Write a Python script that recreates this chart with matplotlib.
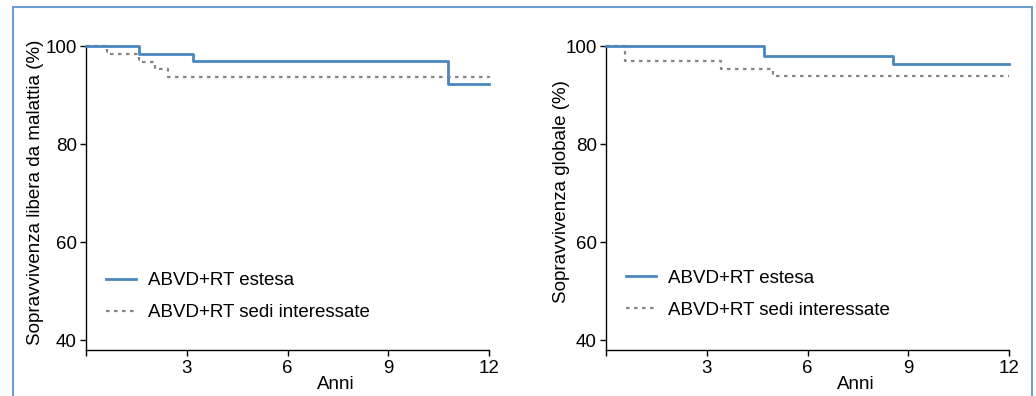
import matplotlib
matplotlib.use('Agg')
import matplotlib.pyplot as plt
from matplotlib.patches import Rectangle

plt.rcParams['font.family'] = ['Liberation Sans', 'DejaVu Sans']

labels = ["ABVD+RT estesa", "ABVD+RT sedi interessate"]
xticks = [0, 3, 6, 9, 12]
xticklabels = ["", "3", "6", "9", "12"]
yticks = [40, 60, 80, 100]

# sopravvivenza libera da malattia
dfs_t_estesa = [0, 1.59, 3.19, 10.79, 12]
dfs_v_estesa = [100, 98.4, 96.9, 92.3, 92.3]
dfs_t_sedi = [0, 0.62, 1.57, 2.05, 2.45, 12]
dfs_v_sedi = [100, 98.3, 96.7, 95.4, 93.7, 93.8]

# sopravvivenza globale
os_t_estesa = [0, 4.69, 8.54, 12]
os_v_estesa = [100, 97.9, 96.4, 96.4]
os_t_sedi = [0, 0.57, 3.42, 4.96, 12]
os_v_sedi = [100, 96.9, 95.4, 93.8, 93.8]

blue = '#4a86c0'
grey = '#858585'

fig = plt.figure(figsize=(10.36, 3.96), dpi=100)
ax1 = fig.add_axes([86/1036, 1-350/396, 403/1036, 304/396])
ax2 = fig.add_axes([606/1036, 1-350/396, 403/1036, 304/396])

panels = [
    (ax1, dfs_t_estesa, dfs_v_estesa, dfs_t_sedi, dfs_v_sedi,
     "Sopravvivenza libera da malattia (%)", -0.104, 0.175),
    (ax2, os_t_estesa, os_v_estesa, os_t_sedi, os_v_sedi,
     "Sopravvivenza globale (%)", -0.089, 0.183),
]

for ax, te, ve, ts, vs, ylab, lx, legy in panels:
    ax.step(te, ve, where='post', color=blue, lw=2.0, label=labels[0],
            clip_on=False, zorder=3)
    ax.step(ts, vs, where='post', color=grey, lw=1.6,
            linestyle=(0, (1.6, 2.0)), label=labels[1], clip_on=False, zorder=2)
    ax.set_xlim(0, 12)
    ax.set_ylim(38, 100)
    ax.set_xticks(xticks)
    ax.set_xticklabels(xticklabels)
    ax.set_yticks(yticks)
    for s in ['top', 'right']:
        ax.spines[s].set_visible(False)
    for s in ['left', 'bottom']:
        ax.spines[s].set_linewidth(1.0)
    ax.tick_params(direction='out', length=4.5, width=1.0, labelsize=13.5, pad=2)
    ax.tick_params(axis='x', pad=3)
    ax.set_ylabel(ylab, fontsize=13.5)
    ax.yaxis.set_label_coords(lx, 0.52)
    ax.set_xlabel("Anni", fontsize=13.5)
    ax.xaxis.set_label_coords(0.62, -0.085)
    ax.legend(loc='center left', bbox_to_anchor=(0.05, legy), frameon=False,
              fontsize=13.5, handlelength=1.6, handletextpad=0.62,
              labelspacing=0.78, borderpad=0, borderaxespad=0)

fig.add_artist(Rectangle((13/1036, -0.1), (1032-13)/1036, 1.1-7/396,
                         transform=fig.transFigure, fill=False,
                         edgecolor='#6b9fd3', lw=1.5))

fig.savefig('out.png', dpi=100)
